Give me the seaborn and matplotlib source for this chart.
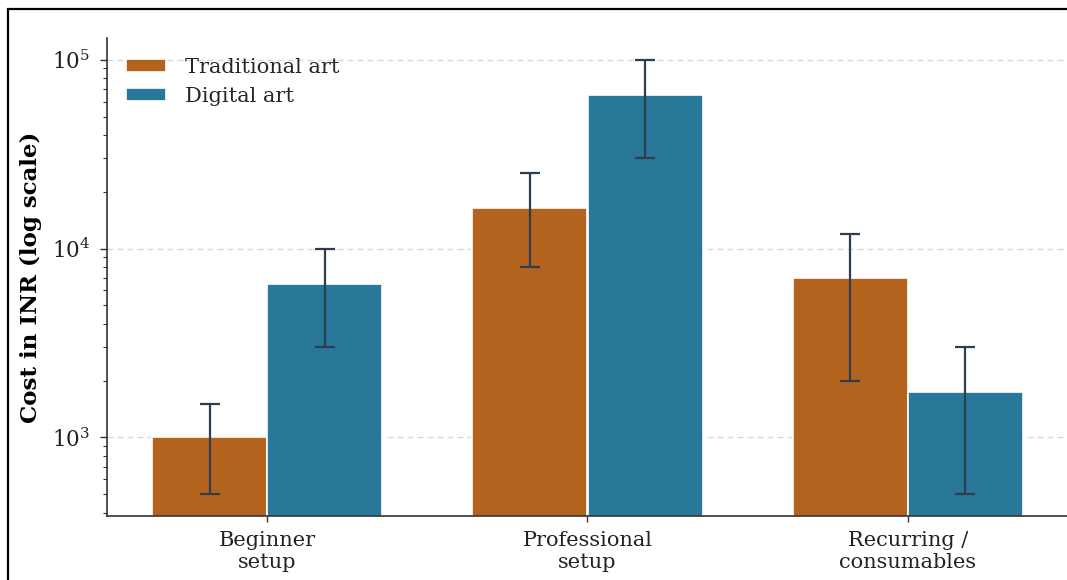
import matplotlib
matplotlib.use("Agg")
import matplotlib.pyplot as plt
from matplotlib.patches import Rectangle
import numpy as np
import pandas as pd
import seaborn as sns

# Cost categories and series
categories = ["Beginner\nsetup", "Professional\nsetup", "Recurring /\nconsumables"]
series = ["Traditional art", "Digital art"]

# Typical cost (INR) and low/high range for each category
traditional_mid = [1000, 16500, 7000]
traditional_low = [500, 8000, 2000]
traditional_high = [1500, 25000, 12000]

digital_mid = [6500, 65000, 1750]
digital_low = [3000, 30000, 500]
digital_high = [10000, 100000, 3000]

colors = ["#B4631F", "#2A7899"]
err_color = "#2C3E50"

df = pd.DataFrame({
    "category": categories * 2,
    "series": [series[0]] * 3 + [series[1]] * 3,
    "cost": traditional_mid + digital_mid,
    "low": traditional_low + digital_low,
    "high": traditional_high + digital_high,
})

sns.set_theme(style="white")
plt.rcParams["font.family"] = ["DejaVu Serif"]

W, H = 1067, 580
fig = plt.figure(figsize=(W / 100, H / 100), dpi=100)
ax = fig.add_axes([107 / W, (H - 516) / H, 961 / W, (516 - 38) / H])
ax.set_yscale("log")

sns.barplot(
    data=df, x="category", y="cost", hue="series",
    palette=colors, width=0.72, gap=0, errorbar=None,
    edgecolor="white", linewidth=1.2, saturation=1, ax=ax,
)

# Range whiskers at the centre of each bar
for container, s in zip(ax.containers, series):
    sub = df[df["series"] == s]
    xs = [bar.get_x() + bar.get_width() / 2 for bar in container]
    ys = sub["cost"].to_numpy()
    lower = ys - sub["low"].to_numpy()
    upper = sub["high"].to_numpy() - ys
    ax.errorbar(xs, ys, yerr=[lower, upper], fmt="none", ecolor=err_color,
                elinewidth=1.6, capsize=7, capthick=1.6, zorder=5)

ax.set_ylim(10 ** 2.584, 10 ** 5.115)
ax.set_xlim(-0.5, 2.5)

ax.set_xlabel("")
ax.set_ylabel("Cost in INR (log scale)", fontsize=16.5, fontweight="bold",
              color="black", labelpad=7)

ax.yaxis.grid(True, which="major", color="#d9d9d9", linewidth=1.0,
              linestyle=(0, (4.3, 2.9)))
ax.xaxis.grid(False)
ax.set_axisbelow(True)

for side in ["top", "right"]:
    ax.spines[side].set_visible(False)
for side in ["left", "bottom"]:
    ax.spines[side].set_color("#333333")
    ax.spines[side].set_linewidth(1.2)

ax.tick_params(axis="y", which="major", left=True, length=5, width=1, pad=7,
               color="#333333", labelsize=15.5, labelcolor="#222222")
ax.tick_params(axis="y", which="minor", left=True, length=3, width=0.8,
               color="#333333")
ax.tick_params(axis="x", bottom=True, length=4, width=1, pad=7,
               color="#333333", labelsize=15, labelcolor="#222222")

leg = ax.legend(loc="upper left", frameon=False, fontsize=15,
                handlelength=1.95, handleheight=0.6, handletextpad=0.9,
                labelspacing=0.5, bbox_to_anchor=(0.0, 0.998))
leg.set_title(None)

# Outer frame of the figure
fig.patches.append(Rectangle((8 / W, -0.2), 1.5, (H - 9) / H + 0.2,
                             transform=fig.transFigure, fill=False,
                             edgecolor="black", linewidth=1.6))

fig.savefig("out.png", dpi=100)
